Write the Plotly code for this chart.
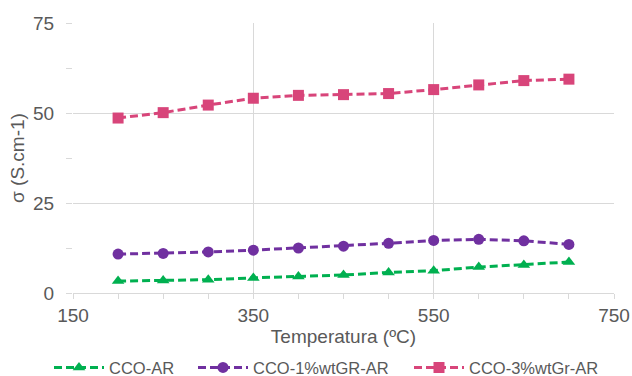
import plotly.graph_objects as go

temperature = [200, 250, 300, 350, 400, 450, 500, 550, 600, 650, 700]
cco_ar = [3.3, 3.5, 3.7, 4.2, 4.6, 5.0, 5.7, 6.2, 7.2, 7.8, 8.6]
cco_1gr = [10.8, 11.0, 11.4, 11.9, 12.5, 13.0, 13.8, 14.6, 14.9, 14.5, 13.5]
cco_3gr = [48.6, 50.1, 52.2, 54.1, 54.9, 55.1, 55.4, 56.5, 57.8, 59.0, 59.4]

series = [
    ("CCO-AR", cco_ar, "#00B050", "triangle-up", "legend"),
    ("CCO-1%wtGR-AR", cco_1gr, "#7030A0", "circle", "legend2"),
    ("CCO-3%wtGr-AR", cco_3gr, "#D8457A", "square", "legend3"),
]

W, H = 632, 376
fig = go.Figure()
for name, vals, color, sym, lg in series:
    fig.add_trace(go.Scatter(
        x=temperature, y=vals, name=name, mode="lines+markers", legend=lg,
        showlegend=True,
        line=dict(color=color, width=3, dash="8px,4px"),
        marker=dict(symbol=sym, size=11, color=color),
    ))

font_color = "#595959"
grid = "#D9D9D9"


def legend_at(px):
    return dict(orientation="h", x=px / W, xanchor="left", xref="container",
                y=0.022, yanchor="middle", yref="container",
                font=dict(size=16.5), itemwidth=50, bgcolor="rgba(0,0,0,0)")


fig.update_layout(
    width=W, height=H,
    showlegend=True,
    margin=dict(l=73, r=18, t=23, b=83),
    paper_bgcolor="white", plot_bgcolor="white",
    font=dict(family="Liberation Sans, Arial, sans-serif", color=font_color, size=19),
    legend=legend_at(49),
    legend2=legend_at(193),
    legend3=legend_at(409),
    xaxis=dict(
        range=[150, 750], tickvals=[150, 350, 550, 750], automargin=False,
        showgrid=True, gridcolor=grid, gridwidth=1,
        showline=True, linecolor=grid, linewidth=1,
        ticks="outside", ticklen=5, tickcolor=grid,
        minor=dict(dtick=50, tick0=150, ticks="outside", ticklen=5, tickcolor=grid, showgrid=False),
        zeroline=False,
        title=dict(text="Temperatura (ºC)", font=dict(size=19), standoff=4),
        tickfont=dict(size=19),
    ),
    yaxis=dict(
        range=[0, 75], tickvals=[0, 25, 50, 75], automargin=False,
        showgrid=True, gridcolor=grid, gridwidth=1,
        showline=False,
        ticks="outside", ticklen=6, tickcolor=grid,
        minor=dict(dtick=12.5, tick0=0, ticks="outside", ticklen=6, tickcolor=grid, showgrid=False),
        zeroline=False,
        ticklabelstandoff=8,
        title=dict(text="σ (S.cm-1)", font=dict(size=19), standoff=3),
        tickfont=dict(size=19),
    ),
)

fig.write_html("out.html")
